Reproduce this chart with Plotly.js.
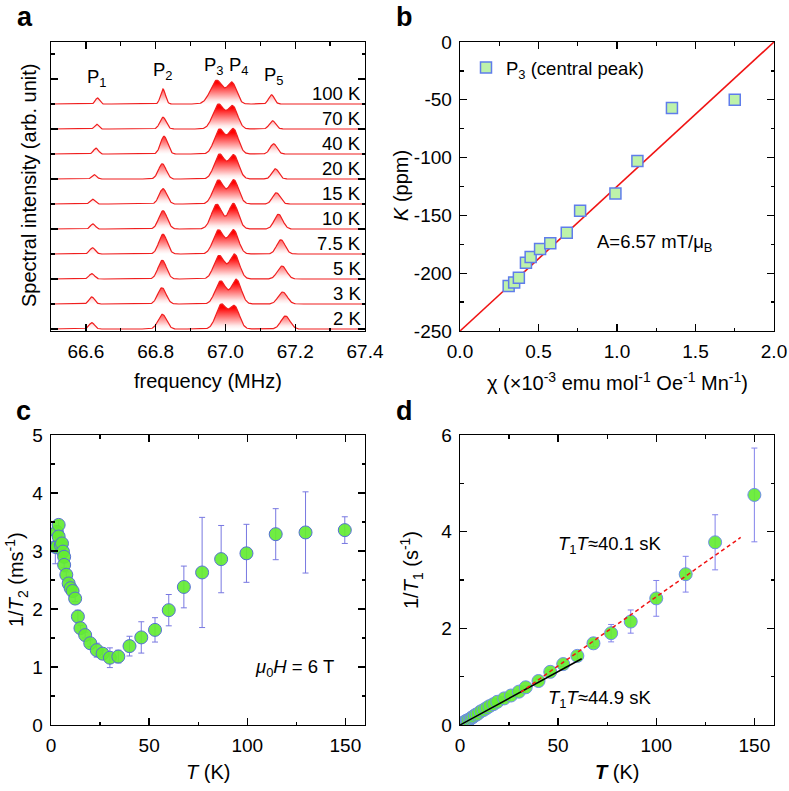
<!DOCTYPE html>
<html>
<head>
<meta charset="utf-8">
<script src="https://cdn.plot.ly/plotly-3.0.1.min.js"></script>
<style>
html,body{margin:0;padding:0;background:#fff;}
#chart{width:789px;height:791px;}
</style>
</head>
<body>
<div id="chart"></div>
<script>
// ---------------- Panel a: NMR spectra (peak parameters) ----------------
const temps = ['100 K','70 K','40 K','20 K','15 K','10 K','7.5 K','5 K','3 K','2 K'];
const offsets = [9, 8, 7, 6, 5, 4, 3, 2, 1, 0];
const p1Pos = [66.633, 66.631, 66.629, 66.624, 66.619, 66.620, 66.619, 66.617, 66.617, 66.617];
const p2Pos = [66.821, 66.821, 66.824, 66.819, 66.821, 66.821, 66.821, 66.819, 66.818, 66.819];
const p3Pos = [66.975, 66.980, 66.983, 66.983, 66.980, 66.975, 66.980, 66.982, 66.986, 66.988];
const p4Pos = [67.019, 67.021, 67.023, 67.024, 67.024, 67.023, 67.023, 67.026, 67.031, 67.026];
const p5Pos = [67.132, 67.135, 67.138, 67.143, 67.146, 67.152, 67.159, 67.162, 67.164, 67.172];
const p1H = [0.24, 0.19, 0.23, 0.17, 0.19, 0.20, 0.25, 0.21, 0.28, 0.25];
const p2H = [0.60, 0.47, 0.71, 0.61, 0.61, 0.73, 0.79, 0.75, 0.65, 0.59];
const p3H = [0.95, 0.99, 0.99, 0.99, 0.96, 0.99, 0.96, 0.94, 0.92, 0.98];
const p4H = [0.83, 0.90, 0.99, 0.95, 0.96, 1.02, 0.96, 0.99, 0.98, 0.90];
const p5H = [0.37, 0.33, 0.41, 0.41, 0.45, 0.59, 0.57, 0.52, 0.48, 0.52];
const p1W = [0.006, 0.006, 0.007, 0.007, 0.007, 0.007, 0.008, 0.008, 0.008, 0.008];
const p2W = [0.007, 0.009, 0.010, 0.011, 0.011, 0.012, 0.012, 0.012, 0.012, 0.012];
const p3W = [0.018, 0.016, 0.015, 0.015, 0.015, 0.015, 0.015, 0.015, 0.015, 0.015];
const p4W = [0.013, 0.014, 0.014, 0.014, 0.014, 0.014, 0.014, 0.014, 0.014, 0.014];
const p5W = [0.008, 0.009, 0.010, 0.010, 0.011, 0.012, 0.012, 0.013, 0.013, 0.013];
const peakLabels = ['P<sub>1</sub>', 'P<sub>2</sub>', 'P<sub>3</sub>', 'P<sub>4</sub>', 'P<sub>5</sub>'];
const peakLabelX = [66.633, 66.822, 66.966, 67.038, 67.138];
const peakLabelY = [10.05, 10.30, 10.52, 10.52, 10.12];

// ---------------- Panel b: Knight shift vs susceptibility ----------------
const chi = [0.31, 0.345, 0.375, 0.42, 0.45, 0.51, 0.575, 0.68, 0.765, 0.99, 1.13, 1.35, 1.75];
const kShift = [-211, -208, -204, -191, -186, -179, -174, -165, -146, -131, -103, -57, -50];
const fitBX = [0, 2];
const fitBY = [-250, 0];
const bYTicks = [0, -50, -100, -150, -200, -250];
const bYTickText = ['0', '-50', '-100', '-150', '-200', '-250'];

// ---------------- Panel c: 1/T2 ----------------
const t2T = [2.2, 3.0, 3.0, 3.9, 3.9, 5.0, 5.6, 6.1, 6.7, 6.7, 7.8, 9.0, 10.0, 11.0, 12.3, 13.7, 15.0, 17.4, 20.0, 23.3, 26.3, 30.0, 34.3, 40.0, 46.0, 53.0, 60.0, 67.7, 77.0, 86.7, 99.6, 114.5, 129.7, 149.7];
const t2Rate = [3.07, 3.33, 3.07, 3.45, 3.25, 3.10, 3.13, 2.99, 2.90, 2.76, 2.59, 2.44, 2.36, 2.31, 2.18, 1.87, 1.67, 1.55, 1.41, 1.29, 1.23, 1.16, 1.18, 1.36, 1.51, 1.64, 1.98, 2.38, 2.63, 2.86, 2.96, 3.29, 3.32, 3.36];
const t2Err = [0.29, 0.08, 0.10, 0.08, 0.08, 0.08, 0.08, 0.06, 0.05, 0.05, 0.05, 0.05, 0.05, 0.05, 0.05, 0.11, 0.05, 0.05, 0.06, 0.12, 0.06, 0.17, 0.11, 0.17, 0.27, 0.21, 0.27, 0.36, 0.95, 0.58, 0.50, 0.44, 0.70, 0.23];

// ---------------- Panel d: 1/T1 ----------------
const t1T = [1.5, 2.2, 3.0, 3.5, 4.0, 5.0, 5.6, 6.3, 7.0, 8.0, 9.0, 10.5, 12.0, 13.5, 15.0, 17.0, 19.0, 22.5, 26.0, 30.0, 33.5, 40.0, 46.0, 52.6, 59.8, 68.0, 77.0, 87.0, 100.0, 115.0, 130.0, 150.0];
const t1Rate = [0.04, 0.06, 0.08, 0.09, 0.10, 0.12, 0.14, 0.16, 0.18, 0.21, 0.23, 0.28, 0.31, 0.35, 0.39, 0.43, 0.48, 0.55, 0.61, 0.69, 0.78, 0.91, 1.10, 1.26, 1.43, 1.69, 1.90, 2.14, 2.62, 3.12, 3.78, 4.76];
const t1Err = [0.02, 0.02, 0.02, 0.02, 0.02, 0.02, 0.02, 0.02, 0.02, 0.02, 0.02, 0.02, 0.02, 0.02, 0.02, 0.03, 0.03, 0.03, 0.03, 0.03, 0.03, 0.04, 0.05, 0.05, 0.10, 0.07, 0.18, 0.24, 0.37, 0.37, 0.57, 0.97];
const lowFitX = [0, 62];
const lowFitY = [0, 1.37];
const highFitX = [31, 143];
const highFitY = [0.68, 3.88];

// ---------------- geometry helpers (page px -> paper) ----------------
const W = 789, H = 791;
const PX = x => x / W;
const PY = y => 1 - y / H;
const FONT = 'Liberation Sans, Arial, Helvetica, sans-serif';
const TICK = 19, ANN = 18.5, TITLE = 20;

const traces = [];

// spectra
const freqStart = 66.5, freqEnd = 67.4, freqStep = 0.0015;
function gauss(x, c, h, w) { return h * Math.exp(-((x - c) * (x - c)) / (2 * w * w)); }
for (let i = 0; i < temps.length; i++) {
  const xs = [], ys = [];
  const n = Math.round((freqEnd - freqStart) / freqStep);
  for (let k = 0; k <= n; k++) {
    const f = freqStart + k * freqStep;
    const v = gauss(f, p1Pos[i], p1H[i], p1W[i]) + gauss(f, p2Pos[i], p2H[i], p2W[i]) +
              gauss(f, p3Pos[i], p3H[i], p3W[i]) + gauss(f, p4Pos[i], p4H[i], p4W[i]) +
              gauss(f, p5Pos[i], p5H[i], p5W[i]);
    xs.push(f); ys.push(offsets[i] + v);
  }
  traces.push({
    type: 'scatter', mode: 'lines', x: xs, y: ys, xaxis: 'x', yaxis: 'y',
    line: {color: 'rgb(240,30,30)', width: 1.2},
    fill: 'toself',
    fillgradient: {type: 'vertical', start: offsets[i], stop: offsets[i] + 0.85,
      colorscale: [[0, 'rgb(255,255,255)'], [0.15, 'rgb(255,235,235)'], [1, 'rgb(255,0,0)']]},
    showlegend: false, hoverinfo: 'skip'
  });
}

// panel b
traces.push({type: 'scatter', mode: 'lines', x: fitBX, y: fitBY, xaxis: 'x2', yaxis: 'y2',
  line: {color: 'rgb(240,20,20)', width: 1.6}, showlegend: false});
traces.push({type: 'scatter', mode: 'markers', x: chi, y: kShift, xaxis: 'x2', yaxis: 'y2',
  name: 'P<sub>3</sub> (central peak)',
  marker: {symbol: 'square', size: 11, color: 'rgb(190,242,170)', line: {color: 'rgb(95,125,235)', width: 1.5}},
  showlegend: true});

// panel c
traces.push({type: 'scatter', mode: 'markers', x: t2T, y: t2Rate, xaxis: 'x3', yaxis: 'y3',
  error_y: {type: 'data', array: t2Err, visible: true, color: 'rgb(120,120,225)', thickness: 1, width: 3},
  marker: {symbol: 'circle', size: 13, color: 'rgba(100,235,50,0.92)', line: {color: 'rgb(85,110,215)', width: 1}},
  showlegend: false});

// panel d
traces.push({type: 'scatter', mode: 'markers', x: t1T, y: t1Rate, xaxis: 'x4', yaxis: 'y4',
  error_y: {type: 'data', array: t1Err, visible: true, color: 'rgb(130,130,235)', thickness: 1, width: 3},
  marker: {symbol: 'circle', size: 13, color: 'rgba(100,235,50,0.92)', line: {color: 'rgb(110,140,235)', width: 1}},
  showlegend: false});
traces.push({type: 'scatter', mode: 'lines', x: lowFitX, y: lowFitY, xaxis: 'x4', yaxis: 'y4',
  line: {color: '#000', width: 1.5}, showlegend: false});
traces.push({type: 'scatter', mode: 'lines', x: highFitX, y: highFitY, xaxis: 'x4', yaxis: 'y4',
  line: {color: 'rgb(240,20,20)', width: 1.5, dash: '4px,3px'}, showlegend: false});

function ax(extra) {
  return Object.assign({
    showline: true, linecolor: '#000', linewidth: 1.3, mirror: 'ticks',
    ticks: 'inside', ticklen: 7, tickwidth: 1.3, tickcolor: '#000',
    showgrid: false, zeroline: false,
    tickfont: {family: FONT, size: TICK, color: '#000'},
    ticklabelstandoff: 3
  }, extra);
}
function minor(dt) { return {dtick: dt, ticks: 'inside', ticklen: 3.5, tickwidth: 1.3, tickcolor: '#000', showgrid: false}; }

const xa = [PX(51), PX(365)], xb = [PX(460), PX(774)];
const yt = [PY(331), PY(42)], yb = [PY(725), PY(435)];

const annotations = [];
function ann(text, x, y, opts) {
  annotations.push(Object.assign({text: text, x: x, y: y, xref: 'paper', yref: 'paper', showarrow: false,
    xanchor: 'center', yanchor: 'middle', font: {family: FONT, size: ANN, color: '#000'}}, opts || {}));
}
const letterFont = {family: FONT, size: 27, color: '#000'};
const titleFont = {family: FONT, size: TITLE, color: '#000'};
// panel letters
ann('<b>a</b>', PX(25), PY(17), {font: letterFont});
ann('<b>b</b>', PX(404), PY(17), {font: letterFont});
ann('<b>c</b>', PX(23), PY(411), {font: letterFont});
ann('<b>d</b>', PX(405), PY(411), {font: letterFont});
// axis titles
ann('frequency (MHz)', PX(208), PY(381), {font: titleFont});
ann('Spectral intensity (arb. unit)', PX(29), PY(186), {textangle: -90, font: titleFont});
ann('χ (×10<sup>-3</sup> emu mol<sup>-1</sup> Oe<sup>-1</sup> Mn<sup>-1</sup>)', PX(617), PY(381), {font: titleFont});
ann('<i>K</i> (ppm)', PX(401), PY(186), {textangle: -90, font: titleFont});
ann('1/<i>T</i><sub>2</sub> (ms<sup>-1</sup>)', PX(16), PY(580), {textangle: -90, font: titleFont});
ann('<i>T</i> (K)', PX(208), PY(772), {font: titleFont});
ann('1/<i>T</i><sub>1</sub> (s<sup>-1</sup>)', PX(411), PY(570), {textangle: -90, font: titleFont});
ann('<b><i>T</i></b> (K)', PX(617), PY(772), {font: titleFont});
// panel a labels (data coords)
for (let i = 0; i < temps.length; i++) {
  annotations.push({text: temps[i], x: 67.393, y: offsets[i] + 0.42, xref: 'x', yref: 'y', showarrow: false,
    xanchor: 'right', yanchor: 'middle', font: {family: FONT, size: ANN, color: '#000'}});
}
for (let j = 0; j < peakLabels.length; j++) {
  annotations.push({text: peakLabels[j], x: peakLabelX[j], y: peakLabelY[j], xref: 'x', yref: 'y', showarrow: false,
    xanchor: 'center', yanchor: 'middle', font: {family: FONT, size: ANN, color: '#000'}});
}
// panel b annotation
annotations.push({text: 'A=6.57 mT/μ<sub>B</sub>', x: PX(595), y: PY(243), xref: 'paper', yref: 'paper', showarrow: false,
  xanchor: 'left', yanchor: 'middle', font: {family: FONT, size: ANN, color: '#000'}});
// panel c annotation
ann('<i>μ</i><sub>0</sub><i>H</i> = 6 T', PX(294), PY(668));
// panel d annotations
ann('<i>T</i><sub>1</sub><i>T</i>≈40.1 sK', PX(609), PY(545));
ann('<i>T</i><sub>1</sub><i>T</i>≈44.9 sK', PX(599), PY(699));

const layout = {
  width: W, height: H,
  margin: {l: 0, r: 0, t: 0, b: 0},
  paper_bgcolor: '#fff', plot_bgcolor: '#fff',
  font: {family: FONT, size: 16, color: '#000'},
  showlegend: true,
  legend: {x: PX(466), y: PY(49), xanchor: 'left', yanchor: 'top', bgcolor: 'rgba(0,0,0,0)',
    font: {family: FONT, size: ANN, color: '#000'}, itemwidth: 30, tracegroupgap: 0},
  xaxis: ax({domain: xa, anchor: 'y', range: [66.5, 67.4], tick0: 66.6, dtick: 0.2, tickformat: '.1f', minor: minor(0.1)}),
  yaxis: ax({domain: yt, anchor: 'x', range: [-0.08, 11.48], tick0: 0, dtick: 2, showticklabels: false, minor: minor(1)}),
  xaxis2: ax({domain: xb, anchor: 'y2', range: [0, 2], tick0: 0, dtick: 0.5, tickformat: '.1f', minor: minor(0.25)}),
  yaxis2: ax({domain: yt, anchor: 'x2', range: [-250, 0], tickmode: 'array', tickvals: bYTicks, ticktext: bYTickText, minor: minor(25)}),
  xaxis3: ax({domain: xa, anchor: 'y3', range: [0, 160], tick0: 0, dtick: 50, minor: minor(25)}),
  yaxis3: ax({domain: yb, anchor: 'x3', range: [0, 5], tick0: 0, dtick: 1, minor: minor(0.5)}),
  xaxis4: ax({domain: xb, anchor: 'y4', range: [0, 160], tick0: 0, dtick: 50, minor: minor(25)}),
  yaxis4: ax({domain: yb, anchor: 'x4', range: [0, 6], tick0: 0, dtick: 2, minor: minor(1)}),
  annotations: annotations
};

Plotly.newPlot('chart', traces, layout, {staticPlot: true, displayModeBar: false});
</script>
</body>
</html>
